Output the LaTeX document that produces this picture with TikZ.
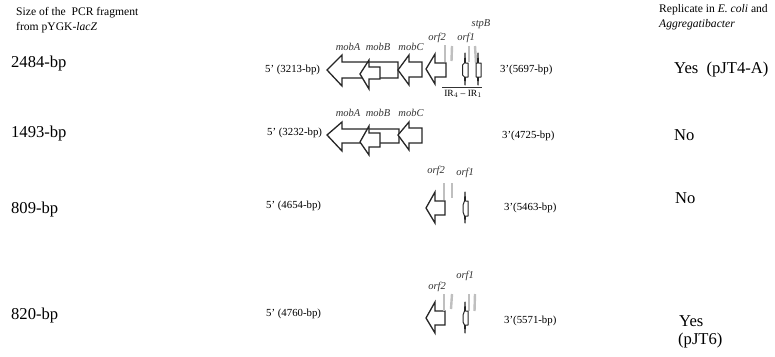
\documentclass[tikz,border=0pt]{standalone}
\usepackage{fontspec}
\setmainfont{Liberation Serif}
\usepackage{tikz}

\tikzset{
  gene/.style={draw=black!85, line width=1.3pt, fill=white, line join=miter},
  spindle/.style={draw=black!85, line width=1pt, fill=white, line join=round},
  spacer/.style={draw=black!25, line width=2.4pt},
  small/.style={font=\fontsize{11.6}{13}\selectfont, inner sep=0pt, anchor=west},
  ends/.style={font=\fontsize{10.8}{13}\selectfont, inner sep=0pt, anchor=west},
  big/.style={font=\fontsize{16.6}{19}\selectfont, inner sep=0pt, anchor=west},
  genelabel/.style={font=\fontsize{10.5}{12}\selectfont\itshape, text=black!80, inner sep=0pt}
}

\begin{document}
\begin{tikzpicture} [x=1pt,y=-1pt]

\useasboundingbox (0,0) rectangle (775,356);

% left column
\node [small] (sizeA) at (16,13) {Size of the\ \ PCR fragment};
\node [small] (sizeB) at (16,28) {from pYGK-\textit{lacZ}};
\node [big] (lenA) at (11,64) {2484-bp};
\node [big] (lenB) at (11,134) {1493-bp};
\node [big] (lenC) at (11,210) {809-bp};
\node [big] (lenD) at (11,316) {820-bp};

% ends of the fragments
\node [ends] (fiveA) at (265,70) {5’ (3213-bp)};
\node [ends] (threeA) at (500,70) {3’(5697-bp)};
\node [ends] (fiveB) at (267,133) {5’ (3232-bp)};
\node [ends] (threeB) at (502,136) {3’(4725-bp)};
\node [ends] (fiveC) at (266,206) {5’ (4654-bp)};
\node [ends] (threeC) at (504,208) {3’(5463-bp)};
\node [ends] (fiveD) at (266,314) {5’ (4760-bp)};
\node [ends] (threeD) at (504,321) {3’(5571-bp)};

% right column
\node [small] (repA) at (659,10) {Replicate in \textit{E. coli} and};
\node [small] (repB) at (659,25) {\textit{Aggregatibacter}};
\node [big] (ansA) at (674,70) {Yes\ \ (pJT4-A)};
\node [big] (ansB) at (674,135) {No};
\node [big] (ansC) at (675,198) {No};
\node [big] (ansD) at (679,321) {Yes};
\node [big] (ansE) at (678,341) {(pJT6)};

% first row
\draw [gene] (327,70) -- (342,55) -- (342,62) -- (398,62) -- (398,78) -- (342,78) -- (342,86) -- cycle;
\draw [gene] (398,70) -- (409,55) -- (409,62) -- (422,62) -- (422,77) -- (409,77) -- (409,85) -- cycle;
\draw [gene] (360,74) -- (369,60) -- (369,67) -- (380,67) -- (380,79) -- (369,79) -- (369,89) -- cycle;
\draw [gene] (426,69) -- (435,54) -- (435,63) -- (446,63) -- (446,77) -- (435,77) -- (435,84) -- cycle;
\draw [spacer] (445,45) -- (445,62);
\draw [spacer] (452,46) -- (451.5,61);
\draw [spacer] (469,46) -- (469,62);
\draw [spacer] (475,46) -- (476,63);
\draw [spindle] (465,53) -- (465.5,63) -- (468,63) -- (468,77) -- (465.5,77) -- (465,85) -- (464.5,77) -- (462.5,75) -- (462.5,65) -- (464.5,63) -- cycle;
\draw [spindle] (478,53) -- (478.5,63) -- (481,63) -- (481,77) -- (478.5,77) -- (478,85) -- (477.5,77) -- (476,77) -- (476,63) -- (477.5,63) -- cycle;
\coordinate (irL) at (442,87);
\coordinate (irR) at (482,87);
\draw [black!80, line width=0.8pt] (irL) -- (irR);
\node [font=\fontsize{9.5}{11}\selectfont, inner sep=0pt] (irA) at (463,94) {IR$_4$ -- IR$_1$};
\node [genelabel] (mobAa) at (348,47) {mobA};
\node [genelabel] (mobBa) at (378,47) {mobB};
\node [genelabel] (mobCa) at (411,47) {mobC};
\node [genelabel] (orfBa) at (437,38) {orf2};
\node [genelabel] (orfAa) at (466,38) {orf1};
\node [genelabel] (stpBa) at (481,24) {stpB};

% second row
\draw [gene] (327,135) -- (342,122) -- (342,129) -- (399,129) -- (399,143) -- (342,143) -- (342,151) -- cycle;
\draw [gene] (398,135) -- (409,122) -- (409,128) -- (422,128) -- (422,143) -- (409,143) -- (409,150) -- cycle;
\draw [gene] (360,142) -- (369,126) -- (369,133) -- (380,133) -- (380,147) -- (369,147) -- (369,155) -- cycle;
\node [genelabel] (mobAb) at (348,113) {mobA};
\node [genelabel] (mobBb) at (378,113) {mobB};
\node [genelabel] (mobCb) at (411,113) {mobC};

% third row
\draw [gene] (426,208) -- (435,192) -- (435,201) -- (445,201) -- (445,215) -- (435,215) -- (435,223) -- cycle;
\draw [spacer] (444,183) -- (444,200);
\draw [spacer] (452,183) -- (452,198);
\draw [spindle] (465,192) -- (465.5,201) -- (468,201) -- (468,216) -- (465.5,216) -- (465,223) -- (464.5,216) -- (463,212) -- (463,205) -- (464.5,201) -- cycle;
\node [genelabel] (orfBc) at (436,171) {orf2};
\node [genelabel] (orfAc) at (465,173) {orf1};

% fourth row
\draw [gene] (426,318) -- (435,302) -- (435,311) -- (445,311) -- (445,325) -- (435,325) -- (435,333) -- cycle;
\draw [spacer] (444,294) -- (444,311);
\draw [spacer] (452,294) -- (451,309);
\draw [spacer] (469,294) -- (469,311);
\draw [spacer] (475,294) -- (474.5,311);
\draw [spindle] (465,302) -- (465.5,311) -- (468,311) -- (468,325) -- (465.5,325) -- (465,333) -- (464.5,325) -- (463,322) -- (463,315) -- (464.5,311) -- cycle;
\node [genelabel] (orfBd) at (437,287) {orf2};
\node [genelabel] (orfAd) at (465,276) {orf1};

\end{tikzpicture}
\end{document}
